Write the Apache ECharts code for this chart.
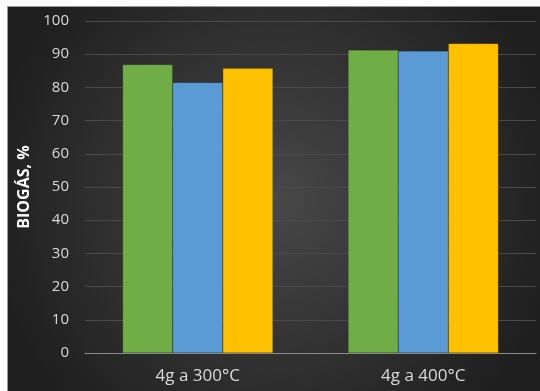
<!DOCTYPE html>
<html><head><meta charset="utf-8">
<script src="https://cdn.jsdelivr.net/npm/echarts@6/dist/echarts.min.js"></script>
<style>
html,body{margin:0;padding:0;background:#fff;}
#c{position:absolute;left:7px;top:6px;width:532px;height:384px;border:1px solid #9a9a9a;}
</style></head>
<body><div id="c"></div>
<script>
const categories = ['4g a 300°C', '4g a 400°C'];
const seriesA = [86.9, 91.3];
const seriesB = [81.5, 91.0];
const seriesC = [85.8, 93.2];
const yTicks = {min: 0, max: 100, interval: 10};
const colors = ['#70AD47', '#5B9BD5', '#FFC000'];

const chart = echarts.init(document.getElementById('c'));
const mk = (data, i) => ({
  type: 'bar', data: data, barGap: '0%', barCategoryGap: '33.3%',
  itemStyle: {color: colors[i], borderColor: 'rgba(0,0,0,0.25)', borderWidth: 0.5},
  silent: true
});
chart.setOption({
  animation: false,
  backgroundColor: {
    type: 'radial', x: 0.5, y: 0.5, r: 0.75,
    colorStops: [{offset: 0, color: '#484848'}, {offset: 1, color: '#1f1f1f'}]
  },
  grid: {left: 77, right: 4, top: 14, bottom: 38, containLabel: false, outerBoundsMode: 'none'},
  xAxis: {
    type: 'category', data: categories,
    axisLine: {lineStyle: {color: '#8c8c8c', width: 1}},
    axisTick: {show: false},
    axisLabel: {color: '#d9d9d9', fontSize: 17, fontFamily: 'Open Sans, Noto Sans, sans-serif', margin: 15}
  },
  yAxis: {
    type: 'value', min: yTicks.min, max: yTicks.max, interval: yTicks.interval,
    name: 'BIOGÁS, %', nameLocation: 'middle', nameGap: 42, nameRotate: 90,
    nameTextStyle: {color: '#ffffff', fontSize: 16, fontWeight: 'bold', fontFamily: 'Open Sans, Noto Sans, sans-serif'},
    axisLine: {show: false}, axisTick: {show: false},
    axisLabel: {color: '#d9d9d9', fontSize: 15, fontFamily: 'Open Sans, Noto Sans, sans-serif', margin: 16},
    splitLine: {lineStyle: {color: '#4a4a4a', width: 1}}
  },
  series: [mk(seriesA, 0), mk(seriesB, 1), mk(seriesC, 2)]
});
</script></body></html>
